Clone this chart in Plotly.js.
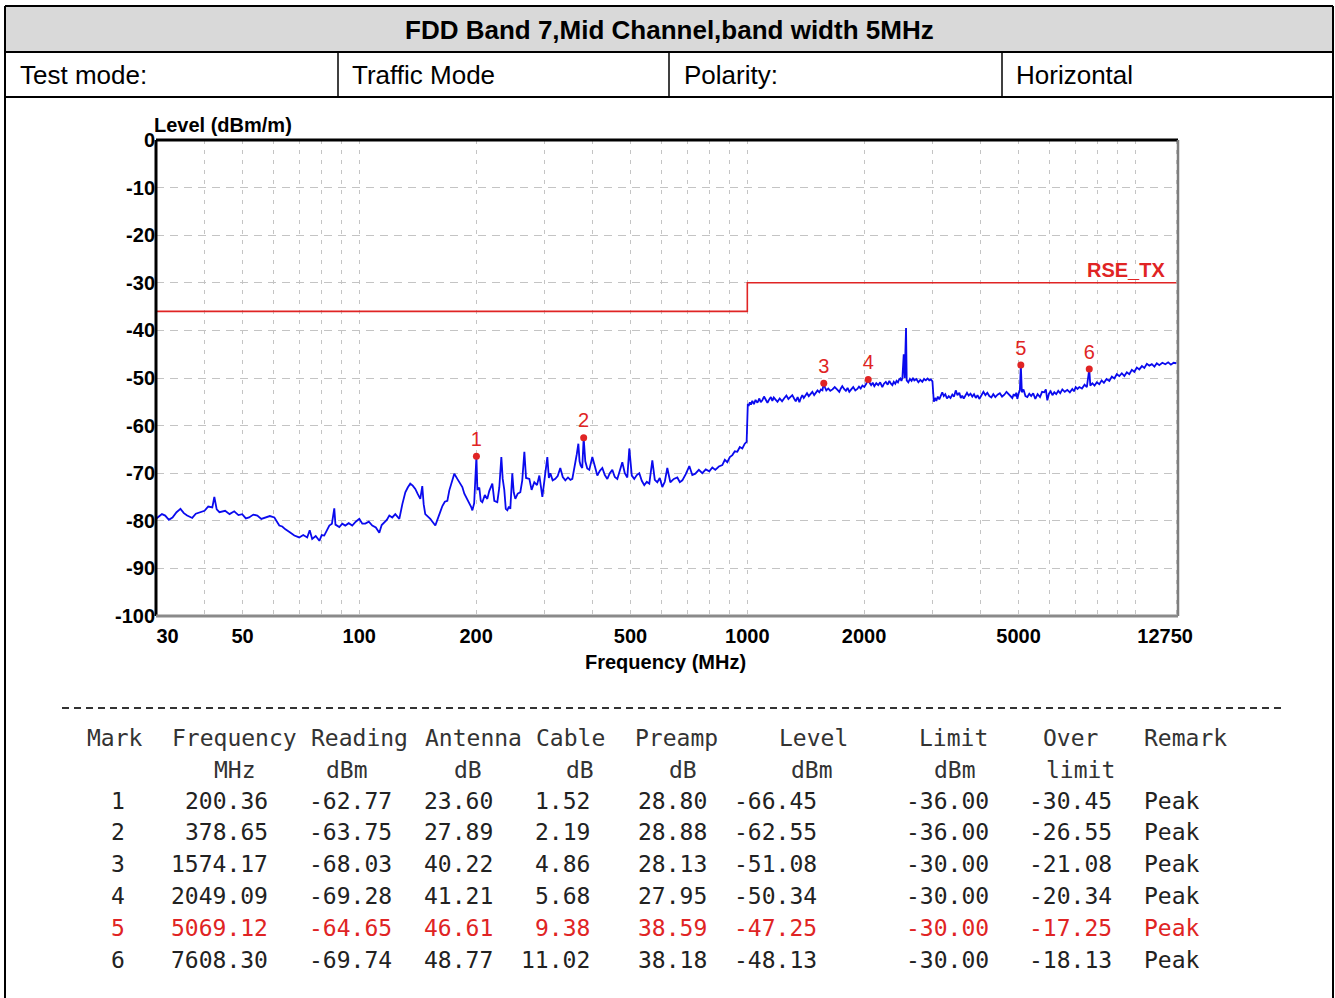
<!DOCTYPE html>
<html><head><meta charset="utf-8">
<script src="https://cdn.plot.ly/plotly-3.0.1.min.js"></script>
<style>html,body{margin:0;padding:0;background:#fff;overflow:hidden;} #chart{width:1335px;height:998px;}</style>
</head><body><div id="chart"></div>
<script>
// ---------------- data ----------------
const titleText = 'FDD Band 7,Mid Channel,band width 5MHz';
const infoCells = ['Test mode:', 'Traffic Mode', 'Polarity:', 'Horizontal'];

const spectrumFreq = [
 30, 31.0, 31.6, 32.3, 33.0, 33.8, 34.6, 35.3, 36.0, 37.1,
 37.9, 38.7, 39.9, 40.8, 41.8, 42.3, 42.9, 43.6, 45.1, 46.3,
 47.6, 48.8, 49.9, 51.0, 52.0, 53.3, 54.6, 55.9, 57.3, 58.8,
 60.4, 61.3, 62.2, 63.3, 64.5, 66.2, 68.0, 70.0, 71.7, 73.4,
 74.5, 75.6, 77.2, 78.9, 80.0, 81.2, 82.5, 83.7, 85.0, 86.2,
 86.8, 88.8, 90.4, 92.0, 93.9, 95.9, 97.9, 100, 101.8, 103.6,
 105.8, 108.0, 110.3, 112.6, 114.2, 116.0, 117.7, 119.5, 121.6, 123.8,
 126.8, 129.1, 131.4, 133.3, 135.3, 137.3, 139.4, 141.5, 143.6, 145.3,
 146.5, 147.9, 150.1, 152.4, 154.7, 157.0, 158.9, 160.8, 163.7, 166.1,
 168.6, 170.6, 173.1, 175.7, 178.9, 181.1, 184.3, 186.5, 189.8, 192.1,
 194.0, 195.6, 197.7, 200.36, 201.5, 203.8, 205.6, 207.5, 210.6, 213.7,
 216.3, 220.2, 222.8, 226.8, 229.5, 232.3, 234.2, 236.4, 238.5, 240.7,
 243.0, 245.0, 247.9, 250.0, 252.4, 256.0, 260.0, 263.0, 266.3, 269.0,
 274.3, 278.0, 282.5, 287.0, 291.1, 294.0, 296.3, 300.5, 305.2, 308.0,
 310.7, 315.0, 320.0, 324.5, 329.6, 334.5, 339.6, 345.0, 350.0, 354.0,
 357.0, 360.4, 363.5, 366.9, 369.5, 372.0, 375.5, 378.65, 382.3, 386.8,
 391.5, 395.0, 398.6, 404.5, 410.6, 416.8, 423.0, 429.3, 435.7, 442.2,
 448.8, 455.5, 462.3, 469.2, 476.2, 483.4, 490.6, 496.4, 503.8, 511.3,
 519.0, 526.8, 534.6, 542.6, 550.8, 559.0, 569.1, 577.5, 586.1, 594.8,
 603.8, 612.8, 622.0, 633.2, 646.5, 660.1, 670.0, 680.0, 694.0, 708.8,
 721.5, 734.5, 750.0, 765.6, 781.5, 798.1, 812.5, 827.0, 844.5, 862.1,
 875.0, 888.1, 901.5, 915.0, 928.5, 942.4, 956.5, 970.8, 985.0, 996.0,
 1000, 1003, 1008, 1015, 1022, 1030, 1040, 1050, 1062, 1074,
 1083, 1093, 1104, 1115, 1127, 1139, 1150, 1160, 1170, 1181,
 1196, 1212, 1229, 1246, 1261, 1276, 1291, 1306, 1320, 1333,
 1348, 1362, 1374, 1386, 1398, 1411, 1425, 1440, 1455, 1471,
 1487, 1502, 1517, 1533, 1548, 1562, 1574.17, 1586, 1598, 1617,
 1636, 1658, 1680, 1703, 1726, 1742, 1757, 1776, 1795, 1813,
 1832, 1853, 1875, 1898, 1921, 1940, 1960, 1980, 2002, 2025,
 2049.09, 2066, 2085, 2105, 2125, 2150, 2175, 2200, 2228, 2250,
 2275, 2300, 2323, 2345, 2365, 2385, 2406, 2425, 2445, 2462,
 2479, 2495, 2510, 2530, 2545, 2555, 2565, 2575, 2600, 2625,
 2650, 2672, 2694, 2727, 2760, 2792, 2825, 2855, 2885, 2915,
 2944, 2972, 3000, 3025, 3047, 3070, 3097, 3124, 3150, 3180,
 3208, 3238, 3270, 3305, 3340, 3376, 3410, 3445, 3480, 3519,
 3550, 3580, 3612, 3647, 3683, 3720, 3760, 3801, 3840, 3880,
 3920, 3963, 4010, 4060, 4108, 4155, 4205, 4255, 4305, 4357,
 4415, 4475, 4535, 4597, 4655, 4710, 4765, 4819, 4860, 4900,
 4935, 4965, 5005, 5040, 5069.12, 5085, 5100, 5150, 5210, 5268,
 5330, 5390, 5455, 5524, 5600, 5680, 5750, 5827, 5880, 5932,
 5990, 6050, 6115, 6183, 6255, 6330, 6405, 6485, 6580, 6680,
 6780, 6880, 6950, 7020, 7095, 7174, 7285, 7400, 7500, 7608.30,
 7656, 7750, 7850, 7960, 8077, 8190, 8300, 8430, 8570, 8700,
 8830, 8960, 9095, 9230, 9370, 9510, 9650, 9795, 9940, 10090,
 10240, 10400, 10550, 10710, 10870, 11030, 11200, 11360, 11530, 11740,
 11950, 12150, 12350, 12550, 12750
];
const spectrumLevel = [
 -79.5, -78.6, -78.9, -79.8, -79.3, -78.2, -77.5, -78.4, -78.9, -79.4,
 -78.5, -78.2, -77.9, -77.0, -77.2, -75.0, -77.6, -78.2, -77.9, -78.6,
 -78.0, -78.8, -78.6, -79.5, -79.3, -78.7, -78.9, -79.6, -79.3, -79.0,
 -79.3, -80.2, -81.0, -81.2, -81.8, -82.4, -83.1, -83.5, -83.0, -83.5,
 -82.0, -83.8, -83.2, -84.2, -83.0, -83.1, -82.0, -81.0, -80.6, -77.4,
 -80.8, -81.3, -80.6, -81.0, -80.5, -81.0, -80.2, -79.6, -80.6, -80.6,
 -80.2, -81.0, -81.4, -82.5, -80.9, -80.3, -79.8, -78.9, -79.3, -78.6,
 -79.6, -76.5, -74.0, -73.0, -72.2, -72.6, -73.3, -74.4, -75.4, -72.7,
 -76.5, -78.6, -79.0, -79.6, -80.3, -81.0, -79.8, -78.6, -76.9, -76.0,
 -75.8, -73.6, -72.0, -70.1, -71.2, -71.9, -72.9, -74.3, -75.5, -76.1,
 -77.0, -77.8, -76.3, -66.45, -73.5, -73.0, -75.8, -76.1, -74.6, -75.4,
 -73.7, -72.2, -75.8, -76.1, -73.0, -66.6, -71.2, -73.5, -77.5, -77.8,
 -77.0, -77.5, -70.0, -74.0, -75.4, -74.3, -74.0, -71.5, -65.5, -71.0,
 -71.2, -73.5, -71.9, -72.5, -70.5, -73.0, -75.0, -71.0, -66.6, -71.0,
 -70.0, -71.5, -71.2, -70.6, -68.9, -70.8, -71.5, -70.9, -71.4, -71.2,
 -69.8, -67.7, -66.0, -63.8, -67.5, -68.4, -68.9, -62.55, -67.5, -69.0,
 -69.3, -67.8, -66.6, -68.5, -70.5, -69.5, -68.9, -70.4, -71.2, -70.0,
 -69.3, -70.8, -71.2, -69.5, -67.7, -70.0, -70.9, -64.8, -70.5, -71.2,
 -70.4, -70.0, -71.6, -72.5, -71.8, -72.2, -67.3, -71.4, -71.9, -71.0,
 -72.9, -71.8, -68.9, -71.9, -71.2, -70.9, -71.9, -71.5, -70.2, -68.5,
 -70.4, -70.1, -69.3, -70.0, -69.2, -69.6, -68.8, -69.3, -68.6, -68.3,
 -67.2, -67.7, -66.6, -66.2, -65.4, -65.5, -64.5, -64.8, -63.8, -63.4,
 -58.5, -55.4, -55.9, -55.1, -55.6, -54.8, -55.5, -54.6, -55.2, -54.3,
 -55.1, -54.7, -53.9, -54.6, -55.2, -54.5, -54.0, -54.8, -54.1, -54.5,
 -55.0, -54.3, -54.9, -54.2, -53.7, -54.4, -54.0, -53.6, -54.3, -54.9,
 -54.0, -55.1, -54.2, -53.6, -54.2, -53.7, -53.2, -53.8, -53.3, -52.9,
 -53.6, -53.2, -52.6, -53.0, -52.4, -52.6, -51.08, -52.0, -52.6, -52.2,
 -52.7, -52.4, -51.9, -52.4, -52.9, -52.2, -51.7, -52.3, -52.7, -52.1,
 -52.9, -52.4, -51.9, -52.6, -52.3, -51.8, -52.2, -51.6, -51.9, -51.2,
 -50.34, -51.0, -51.5, -51.0, -51.7, -51.1, -51.5, -50.9, -51.9, -51.2,
 -50.8, -51.4, -50.6, -51.2, -51.5, -50.8, -51.2, -50.6, -50.9, -50.3,
 -50.1, -50.6, -50.0, -45.0, -50.0, -44.5, -39.5, -50.5, -50.9, -50.2,
 -50.6, -50.0, -50.5, -50.2, -50.9, -50.4, -50.8, -50.2, -50.5, -50.1,
 -50.5, -50.3, -50.7, -55.0, -54.2, -54.8, -53.9, -54.5, -53.6, -53.0,
 -53.8, -53.4, -54.3, -53.8, -54.2, -53.5, -53.9, -52.6, -53.6, -53.1,
 -54.2, -53.7, -54.3, -53.8, -53.1, -53.7, -53.3, -53.9, -53.4, -54.2,
 -53.6, -54.4, -53.5, -52.9, -53.6, -53.1, -53.8, -54.1, -53.4, -54.0,
 -53.5, -53.2, -53.9, -53.5, -52.9, -53.3, -53.9, -54.2, -53.4, -53.8,
 -53.1, -54.4, -53.2, -52.6, -47.25, -51.5, -53.0, -52.4, -53.8, -54.0,
 -53.3, -53.8, -53.2, -54.4, -53.4, -54.0, -52.9, -53.0, -52.4, -54.7,
 -53.3, -52.8, -53.6, -53.0, -53.4, -52.7, -53.2, -52.4, -52.9, -52.5,
 -53.0, -52.3, -52.8, -51.9, -52.3, -51.9, -52.2, -51.4, -51.9, -48.13,
 -51.6, -51.1, -51.6, -50.9, -51.3, -50.5, -51.0, -50.2, -50.6, -49.7,
 -50.1, -49.2, -49.6, -49.0, -49.6, -48.8, -49.2, -48.3, -48.7, -47.8,
 -48.2, -47.5, -47.9, -47.0, -47.4, -47.1, -47.6, -46.9, -47.3, -46.8,
 -47.1, -46.7, -47.2, -46.8, -46.9
];

const limitName = 'RSE_TX';
const limitFreq = [30, 1000, 1000, 12750];
const limitLevel = [-36, -36, -30, -30];

const markNo = ['1', '2', '3', '4', '5', '6'];
const markFreq = [200.36, 378.65, 1574.17, 2049.09, 5069.12, 7608.30];
const markReading = [-62.77, -63.75, -68.03, -69.28, -64.65, -69.74];
const markAntenna = [23.60, 27.89, 40.22, 41.21, 46.61, 48.77];
const markCable = [1.52, 2.19, 4.86, 5.68, 9.38, 11.02];
const markPreamp = [28.80, 28.88, 28.13, 27.95, 38.59, 38.18];
const markLevel = [-66.45, -62.55, -51.08, -50.34, -47.25, -48.13];
const markLimit = [-36.00, -36.00, -30.00, -30.00, -30.00, -30.00];
const markOver = [-30.45, -26.55, -21.08, -20.34, -17.25, -18.13];
const markRemark = ['Peak', 'Peak', 'Peak', 'Peak', 'Peak', 'Peak'];
const highlightRow = 4; // row shown in red

const tableHead1 = ['Mark', 'Frequency', 'Reading', 'Antenna', 'Cable', 'Preamp', 'Level', 'Limit', 'Over', 'Remark'];
const tableHead2 = ['', 'MHz', 'dBm', 'dB', 'dB', 'dB', 'dBm', 'dBm', 'limit', ''];

const xTickVals = [30, 50, 100, 200, 500, 1000, 2000, 5000, 12750];
const xTickText = ['30', '50', '100', '200', '500', '1000', '2000', '5000', '12750'];
const xGridVals = [40, 50, 60, 70, 80, 90, 100, 200, 300, 400, 500, 600, 700, 800, 900,
                   1000, 2000, 3000, 4000, 5000, 6000, 7000, 8000, 9000, 10000];
const yTickVals = [0, -10, -20, -30, -40, -50, -60, -70, -80, -90, -100];
const yTickText = ['0', '-10', '-20', '-30', '-40', '-50', '-60', '-70', '-80', '-90', '-100'];

// ---------------- layout helpers ----------------
const W = 1335, H = 998;
const P = {l: 156, r: 1178, t: 140, b: 616};
const X = px => (px - P.l) / (P.r - P.l);
const Y = py => (P.b - py) / (P.b - P.t);

const SANS = 'Liberation Sans, Arial, sans-serif';
const MONO = 'DejaVu Sans Mono, monospace';
const RED = '#e02424';

const annotations = [];
function ann(text, px, py, anchor, font) {
  annotations.push({text, x: X(px), y: Y(py), xref: 'paper', yref: 'paper',
    xanchor: anchor, yanchor: 'middle', showarrow: false, font, borderpad: 0});
}

// header
ann('<b>' + titleText + '</b>', 669, 30, 'center', {family: SANS, size: 26, color: '#000'});
const infoX = [19, 351, 683, 1015];
infoCells.forEach((t, i) => ann(t, infoX[i], 75, 'left', {family: SANS, size: 26, color: '#000'}));

// chart texts
ann('<b>Level (dBm/m)</b>', 153, 125, 'left', {family: SANS, size: 20, color: '#000'});
ann('<b>Frequency (MHz)</b>', 665, 662, 'center', {family: SANS, size: 20, color: '#000'});
ann('<b>' + limitName + '</b>', 1166, 270, 'right', {family: SANS, size: 20, color: RED});

// marker table
const monoFont = c => ({family: MONO, size: 23, color: c});
const head1X = [86, 171, 310, 424, 535, 634, 778, 918, 1042, 1143];
const head2X = [0, 213, 325, 453, 565, 668, 790, 933, 1045, 0];
tableHead1.forEach((t, i) => ann(t, head1X[i], 738, 'left', monoFont('#333')));
tableHead2.forEach((t, i) => { if (t) ann(t, head2X[i], 770, 'left', monoFont('#333')); });
const rowY = [801, 832, 864, 896, 928, 960];
const colRight = [126, 269, 393, 494, 591, 708, 818, 990, 1113];
const f2 = v => v.toFixed(2);
markNo.forEach((m, r) => {
  const c = r === highlightRow ? RED : '#222';
  const cells = [m, f2(markFreq[r]), f2(markReading[r]), f2(markAntenna[r]), f2(markCable[r]),
                 f2(markPreamp[r]), f2(markLevel[r]), f2(markLimit[r]), f2(markOver[r])];
  cells.forEach((t, i) => ann(t, colRight[i], rowY[r], 'right', monoFont(c)));
  ann(markRemark[r], 1143, rowY[r], 'left', monoFont(c));
});

// shapes: page table frame
const shapes = [];
function line(x0, y0, x1, y1, color, width, dash) {
  shapes.push({type: 'line', xref: 'paper', yref: 'paper', x0: X(x0), y0: Y(y0), x1: X(x1), y1: Y(y1),
    line: {color, width, dash: dash || 'solid'}});
}
shapes.push({type: 'rect', xref: 'paper', yref: 'paper', x0: X(5), x1: X(1333), y0: Y(6), y1: Y(52),
  fillcolor: '#d9d9d9', line: {width: 0}, layer: 'below'});
line(5, 6, 1333, 6, '#000', 2);
line(5, 52, 1333, 52, '#000', 2);
line(5, 97, 1333, 97, '#000', 2);
line(5, 6, 5, 1000, '#000', 2);
line(1333, 6, 1333, 1000, '#000', 2);
[338, 669, 1002].forEach(x => line(x, 52, x, 97, '#000', 1.5));
// dashed separator above the marker table
line(62, 708, 1282, 708, '#333', 2, '7px,5px');
// plot frame
shapes.push({type: 'line', xref: 'paper', yref: 'paper', x0: 0, x1: 1, y0: 1, y1: 1, line: {color: '#000', width: 3}});
shapes.push({type: 'line', xref: 'paper', yref: 'paper', x0: 0, x1: 0, y0: 0, y1: 1, line: {color: '#000', width: 3}});
shapes.push({type: 'line', xref: 'paper', yref: 'paper', x0: 1, x1: 1, y0: 0, y1: 1, line: {color: '#7f7f7f', width: 2.5}});
shapes.push({type: 'line', xref: 'paper', yref: 'paper', x0: 0, x1: 1, y0: 0, y1: 0, line: {color: '#8a8a8a', width: 3}});

// ---------------- traces ----------------
const traces = [
  {x: limitFreq, y: limitLevel, type: 'scatter', mode: 'lines', name: limitName,
   line: {color: RED, width: 1.6}},
  {x: spectrumFreq, y: spectrumLevel, type: 'scatter', mode: 'lines', name: 'Level',
   line: {color: '#0a0aee', width: 1.8}},
  {x: markFreq, y: markLevel, type: 'scatter', mode: 'markers+text', name: 'Marks',
   text: markNo, textposition: 'top center', cliponaxis: false,
   textfont: {family: SANS, size: 20, color: RED},
   marker: {color: RED, size: 7}}
];

const gridColor = '#c4c4c4';
// the first and last x labels sit inside the frame in the reference
const xTickLabels = xTickText.map((t, i) => {
  if (i === 0) return '<b>\u2007\u2007' + t + '</b>';
  if (i === xTickText.length - 1) return '<b>' + t + '\u2007\u2007</b>';
  return '<b>' + t + '</b>';
});
const layout = {
  width: W, height: H,
  margin: {l: P.l, r: W - P.r, t: P.t, b: H - P.b, pad: 0},
  paper_bgcolor: '#fff', plot_bgcolor: '#fff',
  showlegend: false,
  xaxis: {
    type: 'log', range: [1.476, 4.11],
    tickmode: 'array', tickvals: xTickVals, ticktext: xTickLabels,
    tickfont: {family: SANS, size: 20, color: '#000'},
    ticks: '', showline: false, zeroline: false, ticklabelstandoff: 6,
    showgrid: true, gridcolor: gridColor, gridwidth: 1, griddash: '4px,6px',
    minor: {tickmode: 'array', tickvals: xGridVals, showgrid: true, gridcolor: gridColor,
            gridwidth: 1, griddash: '4px,6px', ticks: ''}
  },
  yaxis: {
    range: [-100, 0],
    tickmode: 'array', tickvals: yTickVals, ticktext: yTickText.map(t => '<b>' + t + '</b>'),
    tickfont: {family: SANS, size: 20, color: '#000'},
    ticks: '', showline: false, zeroline: false,
    showgrid: true, gridcolor: gridColor, gridwidth: 1, griddash: '8px,6px'
  },
  annotations, shapes
};

Plotly.newPlot('chart', traces, layout, {staticPlot: true, displayModeBar: false});
</script></body></html>
